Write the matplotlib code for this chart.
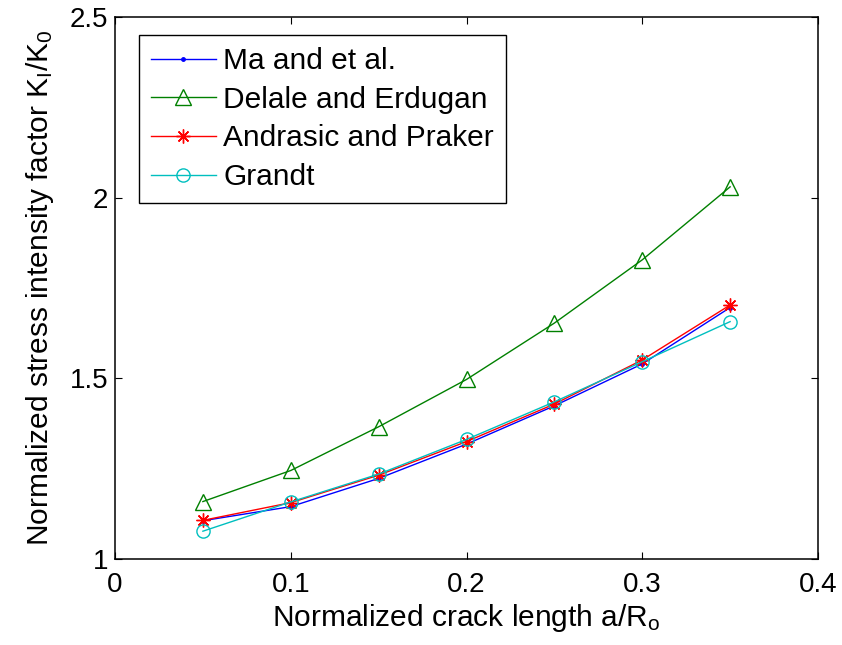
import matplotlib.pyplot as plt

plt.rcParams['font.family'] = ['Liberation Sans', 'DejaVu Sans']
plt.rcParams['mathtext.default'] = 'regular'

crack = [0.05, 0.10, 0.15, 0.20, 0.25, 0.30, 0.35]
ma = [1.106, 1.145, 1.223, 1.318, 1.424, 1.540, 1.696]
delale = [1.159, 1.245, 1.366, 1.497, 1.653, 1.828, 2.030]
andrasic = [1.107, 1.156, 1.232, 1.325, 1.429, 1.551, 1.703]
grandt = [1.077, 1.158, 1.235, 1.331, 1.435, 1.546, 1.657]

fig = plt.figure(figsize=(8.42, 6.45), dpi=100)
ax = fig.add_axes([0.1366, 0.1333, 0.8349, 0.8403])

ax.plot(crack, ma, '-', color='#0000ff', marker='.', ms=5, lw=1, label='Ma and et al.')
ax.plot(crack, delale, '-', color='#008000', marker='^', ms=11, mfc='none', lw=1,
        label='Delale and Erdugan')
ax.plot(crack, andrasic, '-', color='#ff0000', marker=(8, 2, 0), ms=10, mew=1, lw=1,
        label='Andrasic and Praker')
ax.plot(crack, grandt, '-', color='#00bfbf', marker='o', ms=9.5, mfc='none', lw=1,
        label='Grandt')

ax.set_xlim(0, 0.4)
ax.set_ylim(1, 2.5)
ax.set_xticks([0, 0.1, 0.2, 0.3, 0.4])
ax.set_xticklabels(['0', '0.1', '0.2', '0.3', '0.4'])
ax.set_yticks([1, 1.5, 2, 2.5])
ax.set_yticklabels(['1', '1.5', '2', '2.5'])
ax.tick_params(direction='in', top=True, right=True, length=5, width=0.8,
               labelsize=20)
ax.tick_params(axis='x', pad=9)
ax.tick_params(axis='y', pad=5)
for s in ax.spines.values():
    s.set_linewidth(1.1)

ax.set_xlabel('Normalized crack length a/R$_o$', fontsize=21.5, labelpad=3)
ax.set_ylabel('Normalized stress intensity factor K$_I$/K$_0$', fontsize=21.5, labelpad=10)

leg = ax.legend(loc='upper left', bbox_to_anchor=(0.0341, 0.9668), fontsize=21.5,
                frameon=True, fancybox=False, edgecolor='black', framealpha=1,
                handlelength=2.18, handletextpad=0.25, labelspacing=0.36,
                borderpad=0.4, borderaxespad=0)
leg.get_frame().set_linewidth(1.0)

fig.savefig('out.png', dpi=100, facecolor='white')
